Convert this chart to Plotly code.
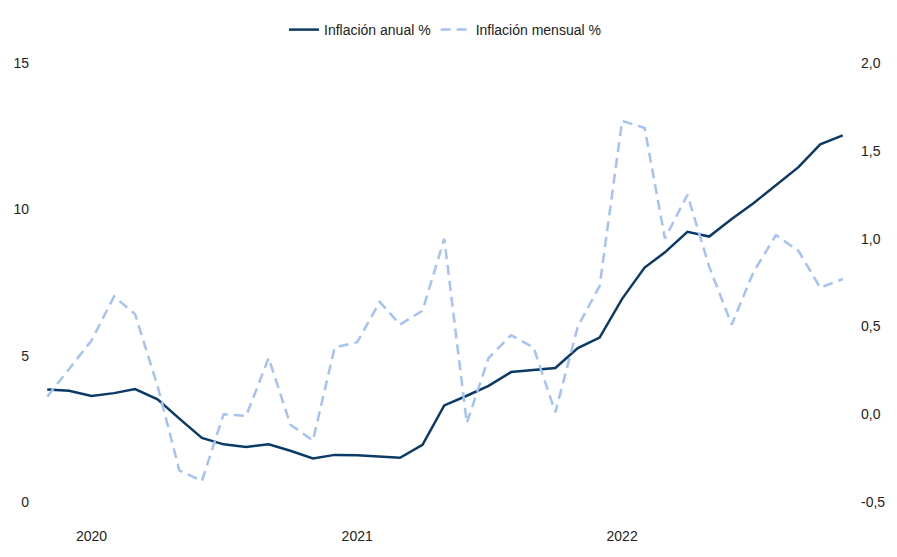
import plotly.graph_objects as go
import pandas as pd

dates = pd.date_range("2019-11-01", "2022-11-01", freq="MS")
anual = [3.84, 3.80, 3.62, 3.72, 3.86, 3.51, 2.85, 2.19, 1.97, 1.88, 1.97, 1.75, 1.49,
         1.61, 1.60, 1.56, 1.51, 1.95, 3.30, 3.63, 3.97, 4.44, 4.51, 4.58, 5.26, 5.62,
         6.94, 8.01, 8.53, 9.23, 9.07, 9.67, 10.21, 10.84, 11.44, 12.22, 12.53]
mensual = [0.10, 0.26, 0.42, 0.67, 0.57, 0.16, -0.32, -0.38, 0.00, -0.01, 0.32, -0.06, -0.15,
           0.38, 0.41, 0.64, 0.51, 0.59, 1.00, -0.05, 0.32, 0.45, 0.38, 0.01, 0.50, 0.73,
           1.67, 1.63, 1.00, 1.25, 0.84, 0.51, 0.81, 1.02, 0.93, 0.72, 0.77]
year_ticks = ["2020-01-01", "2021-01-01", "2022-01-01"]
year_labels = ["2020", "2021", "2022"]
left_ticks = [0, 5, 10, 15]
right_ticks = [-0.5, 0.0, 0.5, 1.0, 1.5, 2.0]
right_labels = ["-0,5", "0,0", "0,5", "1,0", "1,5", "2,0"]

W, H = 889, 549
ML, MR, MT, MB = 32, 47, 55, 55

fig = go.Figure()
fig.add_trace(go.Scatter(x=dates, y=anual, name="Inflación anual %", mode="lines",
                         line=dict(color="#0b3a66", width=2.5), yaxis="y"))
fig.add_trace(go.Scatter(x=dates, y=mensual, name="Inflación mensual %", mode="lines",
                         line=dict(color="#a4c2f4", width=2.5, dash="10px,6px"), yaxis="y2"))

fig.update_layout(
    width=W, height=H,
    margin=dict(l=ML, r=MR, t=MT, b=MB, autoexpand=False),
    paper_bgcolor="white", plot_bgcolor="white",
    font=dict(family="Liberation Sans, Arial, sans-serif", size=14, color="#222222"),
    separators=",.",
    showlegend=True,
    legend=dict(orientation="h", x=0.5, xanchor="center",
                y=1 + (MT - 22) / (H - MT - MB), yanchor="middle",
                itemwidth=30, font=dict(size=14, color="#222222")),
    xaxis=dict(range=["2019-10-22", "2022-11-11"], tickvals=year_ticks, ticktext=year_labels,
               showgrid=False, zeroline=False, showline=False, ticks="",
               ticklabelstandoff=24, automargin=False),
    yaxis=dict(range=[0, 15], tickvals=left_ticks, showgrid=False, zeroline=False,
               showline=False, ticks="", ticklabelstandoff=10, automargin=False),
    yaxis2=dict(range=[-0.5, 2.0], tickvals=right_ticks, ticktext=right_labels, overlaying="y",
                side="right", showgrid=False, zeroline=False, showline=False, ticks="",
                ticklabelstandoff=10, automargin=False),
)
fig.write_html("out.html")
